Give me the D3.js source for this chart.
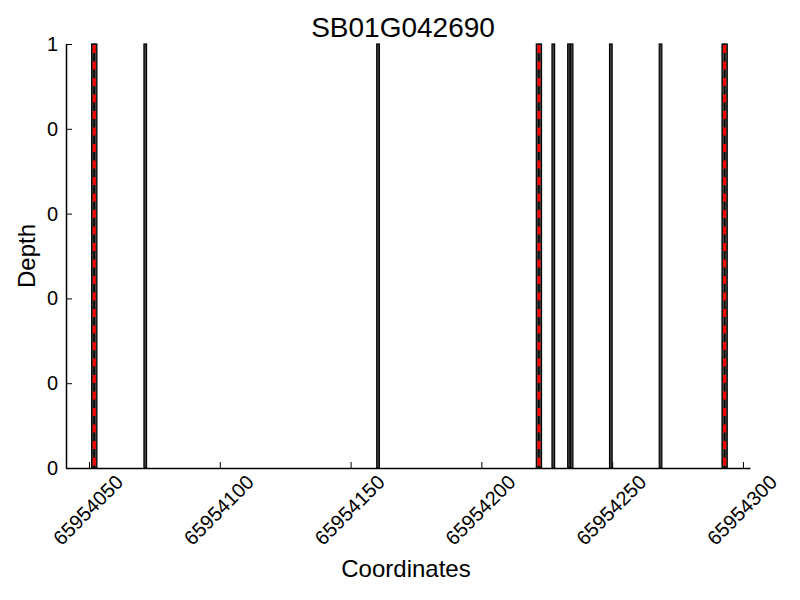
<!DOCTYPE html>
<html>
<head>
<meta charset="utf-8">
<script src="https://cdn.jsdelivr.net/npm/d3@7"></script>
<style>
  body { margin: 0; background: white; }
  text { font-family: "Liberation Sans", Arial, Helvetica, sans-serif; fill: black; }
</style>
</head>
<body>
<script>
// read depth positions (bar left edge) and depth values
let positions = [65954051, 65954052, 65954071, 65954160, 65954221, 65954222, 65954227,
                 65954233, 65954234, 65954249, 65954268, 65954292, 65954293]
let depths = [1, 1, 1, 1, 1, 1, 1, 1, 1, 1, 1, 1, 1]
// red dashed markers
let markers = [65954052, 65954222, 65954293]

let xTicks = [65954050, 65954100, 65954150, 65954200, 65954250, 65954300]
let yTicks = [0, 0.2, 0.4, 0.6, 0.8, 1]
let yTickLabels = ["0", "0", "0", "0", "0", "1"]

let titleText = "SB01G042690"
let xLabel = "Coordinates"
let yLabel = "Depth"

let w = 800
let h = 600
let padLeft = 66
let padRight = 750
let padTop = 44
let padBottom = 468

let svg = d3.select("body").append("svg")
  .attr("width", w)
  .attr("height", h)

let xScale = d3.scaleLinear().domain([65954041.2, 65954302.7]).range([padLeft, padRight])
let yScale = d3.scaleLinear().domain([0, 1]).range([padBottom, padTop])

let data = positions.map((p, i) => ({pos: p, depth: depths[i]}))

// bars
svg.selectAll("rect.bar")
  .data(data)
  .enter()
  .append("rect")
  .attr("class", "bar")
  .attr("x", d => xScale(d.pos))
  .attr("width", d => xScale(d.pos + 1) - xScale(d.pos))
  .attr("y", d => yScale(d.depth))
  .attr("height", d => yScale(0) - yScale(d.depth))
  .attr("fill", "#444")
  .attr("stroke", "black")
  .attr("stroke-width", 1.2)

// red dashed lines
svg.selectAll("line.marker")
  .data(markers)
  .enter()
  .append("line")
  .attr("class", "marker")
  .attr("x1", d => xScale(d))
  .attr("x2", d => xScale(d))
  .attr("y1", yScale(1) + 1)
  .attr("y2", yScale(0))
  .attr("stroke", "red")
  .attr("stroke-width", 3)
  .attr("stroke-dasharray", "8,8.5")

// axes
let xAxis = d3.axisBottom(xScale)
  .tickValues(xTicks)
  .tickSizeInner(-6)
  .tickSizeOuter(0)
  .tickFormat("")
let gx = svg.append("g")
  .attr("transform", "translate(0," + padBottom + ")")
  .call(xAxis)
gx.select(".domain").attr("stroke-width", 1.5)

let yAxis = d3.axisLeft(yScale)
  .tickValues(yTicks)
  .tickSizeInner(-6)
  .tickSizeOuter(0)
  .tickFormat("")
let gy = svg.append("g")
  .attr("transform", "translate(" + padLeft + ",0)")
  .call(yAxis)
gy.select(".domain").attr("stroke-width", 1.5)

// x tick labels, rotated
svg.selectAll("text.xtick")
  .data(xTicks)
  .enter()
  .append("text")
  .attr("class", "xtick")
  .attr("transform", d => "translate(" + (xScale(d) - 1) + ",510) rotate(-45)")
  .attr("text-anchor", "middle")
  .attr("dy", "0.35em")
  .attr("font-size", 20)
  .text(d => d)

// y tick labels
svg.selectAll("text.ytick")
  .data(yTicks)
  .enter()
  .append("text")
  .attr("class", "ytick")
  .attr("x", padLeft - 8)
  .attr("y", d => yScale(d))
  .attr("dy", "0.35em")
  .attr("text-anchor", "end")
  .attr("font-size", 20)
  .text((d, i) => yTickLabels[i])

svg.append("text")
  .attr("x", (padLeft + padRight) / 2 - 5)
  .attr("y", 37)
  .attr("text-anchor", "middle")
  .attr("font-size", 28)
  .text(titleText)

svg.append("text")
  .attr("x", (padLeft + padRight) / 2 - 2)
  .attr("y", 577)
  .attr("text-anchor", "middle")
  .attr("font-size", 24)
  .text(xLabel)

svg.append("text")
  .attr("transform", "translate(35," + ((padTop + padBottom) / 2) + ") rotate(-90)")
  .attr("text-anchor", "middle")
  .attr("font-size", 24)
  .text(yLabel)
</script>
</body>
</html>
